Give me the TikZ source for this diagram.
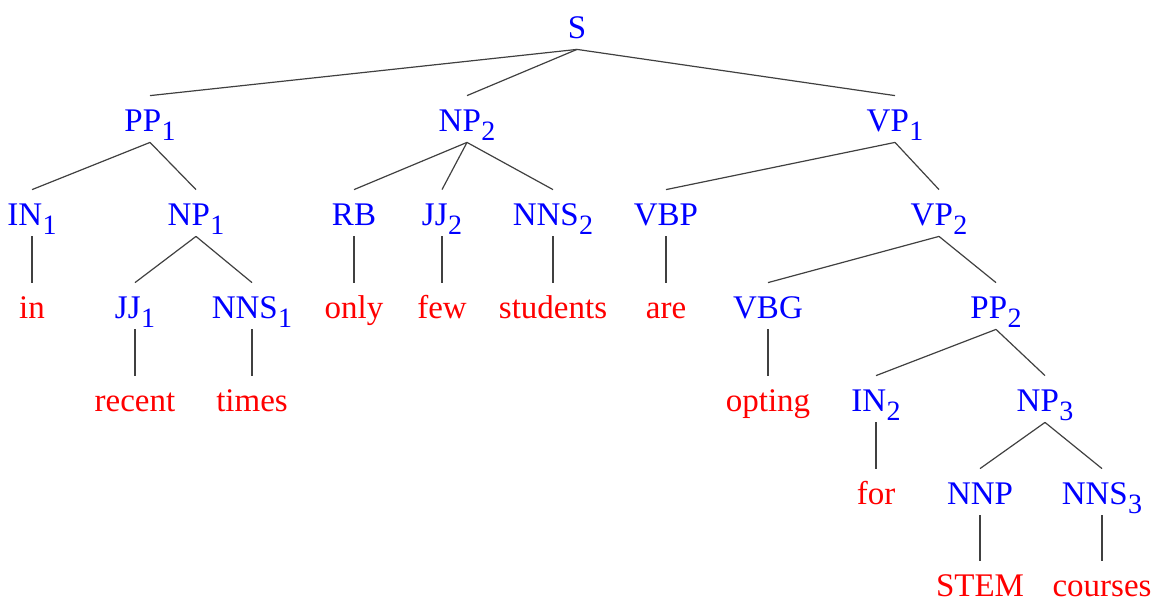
\documentclass[tikz,border=0pt]{standalone}
\usepackage{fontspec}
\setmainfont{Liberation Serif}
\definecolor{catblue}{RGB}{0,0,255}
\definecolor{wordred}{RGB}{255,0,0}
\newcommand\sbs[1]{\kern0.2pt\raisebox{-4.5pt}{\fontsize{14}{15}\selectfont #1}}
\tikzset{
  lab/.style={inner sep=0pt, anchor=base, text height=17.5pt, text depth=5.5pt, font=\fontsize{16.5}{18}\selectfont},
  cat/.style={lab, text=catblue},
  word/.style={lab, text=wordred},
  bottomword/.style={word, text depth=0pt},
  edge/.style={draw=black!75, line width=0.6pt}
}
\begin{document}
\begin{tikzpicture}[x=0.5pt,y=-0.5pt]
\useasboundingbox (0,0) rectangle (1157,601);
% row 0
\node[cat] (S) at (577,38) {S};
% row 1
\node[cat] (PPa) at (150,131) {PP\sbs{1}};
\node[cat] (NPb) at (467,131) {NP\sbs{2}};
\node[cat] (VPa) at (895,131) {VP\sbs{1}};
% row 2
\node[cat] (INa) at (32,225) {IN\sbs{1}};
\node[cat] (NPa) at (196,225) {NP\sbs{1}};
\node[cat] (RB) at (354,225) {RB};
\node[cat] (JJb) at (442,225) {JJ\sbs{2}};
\node[cat] (NNSb) at (553,225) {NNS\sbs{2}};
\node[cat] (VBP) at (666,225) {VBP};
\node[cat] (VPb) at (939,225) {VP\sbs{2}};
% row 3
\node[word] (wIn) at (32,318) {in};
\node[cat] (JJa) at (135,318) {JJ\sbs{1}};
\node[cat] (NNSa) at (252,318) {NNS\sbs{1}};
\node[word] (wOnly) at (354,318) {only};
\node[word] (wFew) at (442,318) {few};
\node[word] (wStudents) at (553,318) {students};
\node[word] (wAre) at (666,318) {are};
\node[cat] (VBG) at (768,318) {VBG};
\node[cat] (PPb) at (996,318) {PP\sbs{2}};
% row 4
\node[word] (wRecent) at (135,411) {recent};
\node[word] (wTimes) at (252,411) {times};
\node[word] (wOpting) at (768,411) {opting};
\node[cat] (INb) at (876,411) {IN\sbs{2}};
\node[cat] (NPc) at (1045,411) {NP\sbs{3}};
% row 5
\node[word] (wFor) at (876,504) {for};
\node[cat] (NNP) at (980,504) {NNP};
\node[cat] (NNSc) at (1102,504) {NNS\sbs{3}};
% row 6
\node[bottomword] (wSTEM) at (980,596) {STEM};
\node[bottomword] (wCourses) at (1102,596) {courses};
% edges
\foreach \p/\c in {S/PPa, S/NPb, S/VPa,
  PPa/INa, PPa/NPa, NPb/RB, NPb/JJb, NPb/NNSb, VPa/VBP, VPa/VPb,
  INa/wIn, NPa/JJa, NPa/NNSa, RB/wOnly, JJb/wFew, NNSb/wStudents, VBP/wAre,
  VPb/VBG, VPb/PPb, JJa/wRecent, NNSa/wTimes, VBG/wOpting,
  PPb/INb, PPb/NPc, INb/wFor, NPc/NNP, NPc/NNSc, NNP/wSTEM, NNSc/wCourses}
  \draw[edge] (\p.south) -- (\c.north);
\end{tikzpicture}
\end{document}
